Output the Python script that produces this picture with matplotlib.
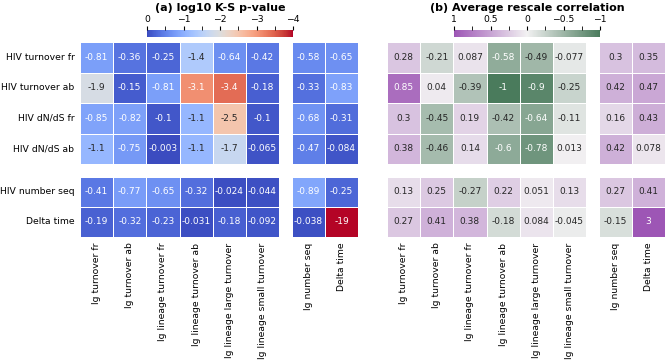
import numpy as np
import matplotlib
matplotlib.use("Agg")
import matplotlib.pyplot as plt
import seaborn as sns
from matplotlib.colors import LinearSegmentedColormap, Normalize
from matplotlib.cm import ScalarMappable

hiv_labels = ["HIV turnover fr", "HIV turnover ab", "HIV dN/dS fr", "HIV dN/dS ab",
              "HIV number seq", "Delta time"]
ig_labels = ["Ig turnover fr", "Ig turnover ab", "Ig lineage turnover fr",
             "Ig lineage turnover ab", "Ig lineage large turnover",
             "Ig lineage small turnover", "Ig number seq", "Delta time"]

# log10 K-S p-values, rows = hiv_labels, cols = ig_labels
ks_pvalues = np.array([
    [-0.81, -0.36, -0.25, -1.4, -0.64, -0.42, -0.58, -0.65],
    [-1.9, -0.15, -0.81, -3.1, -3.4, -0.18, -0.33, -0.83],
    [-0.85, -0.82, -0.1, -1.1, -2.5, -0.1, -0.68, -0.31],
    [-1.1, -0.75, -0.003, -1.1, -1.7, -0.065, -0.47, -0.084],
    [-0.41, -0.77, -0.65, -0.32, -0.024, -0.044, -0.89, -0.25],
    [-0.19, -0.32, -0.23, -0.031, -0.18, -0.092, -0.038, -19],
])

# average rescale correlation
rescale_corr = np.array([
    [0.28, -0.21, 0.087, -0.58, -0.49, -0.077, 0.3, 0.35],
    [0.85, 0.04, -0.39, -1, -0.9, -0.25, 0.42, 0.47],
    [0.3, -0.45, 0.19, -0.42, -0.64, -0.11, 0.16, 0.43],
    [0.38, -0.46, 0.14, -0.6, -0.78, 0.013, 0.42, 0.078],
    [0.13, 0.25, -0.27, 0.22, 0.051, 0.13, 0.27, 0.41],
    [0.27, 0.41, 0.38, -0.18, 0.084, -0.045, -0.15, 3],
])

W, H = 665, 361
fig = plt.figure(figsize=(W / 100, H / 100), dpi=100)


def px_axes(x0, y0, x1, y1):
    return fig.add_axes([x0 / W, 1 - y1 / H, (x1 - x0) / W, (y1 - y0) / H])


green_purple = LinearSegmentedColormap.from_list(
    "gp", ["#4a7b5c", "#f2f1f2", "#9d56b5"])

panels = [
    (ks_pvalues, "coolwarm_r", -4, 0, 80, 292, "(a) log10 K-S p-value",
     [0, -1, -2, -3, -4], np.arange(0, -4.01, -0.5)),
    (rescale_corr, green_purple, -1, 1, 387, 599, "(b) Average rescale correlation",
     [1, 0.5, 0, -0.5, -1], np.arange(1, -1.01, -0.25)),
]

row_splits = [(0, 4, 42, 164), (4, 6, 177, 237)]

for p, (data, cmap, vmin, vmax, xa, xb, title, ticks, minor) in enumerate(panels):
    col_splits = [(0, 6, xa, xa + 199), (6, 8, xb, xb + 66)]
    for r0, r1, y0, y1 in row_splits:
        for c0, c1, x0, x1 in col_splits:
            ax = px_axes(x0, y0, x1, y1)
            sns.heatmap(data[r0:r1, c0:c1], ax=ax, cmap=cmap, vmin=vmin, vmax=vmax,
                        annot=True, fmt=".2g", annot_kws={"fontsize": 6.5},
                        cbar=False, linewidths=0.5, linecolor="white",
                        xticklabels=ig_labels[c0:c1], yticklabels=hiv_labels[r0:r1])
            ax.tick_params(length=0, labelsize=6.7, pad=4)
            ax.set_yticklabels(hiv_labels[r0:r1], rotation=0)
            ax.set_xticklabels(ig_labels[c0:c1], rotation=90)
            if p == 1 or c0 > 0:
                ax.set_yticklabels([])
            if r0 == 0:
                ax.set_xticklabels([])

    # colorbar
    cx0 = xa + 67
    cax = px_axes(cx0, 30, cx0 + 146, 37)
    sm = ScalarMappable(norm=Normalize(vmin, vmax), cmap=cmap)
    cb = fig.colorbar(sm, cax=cax, orientation="horizontal")
    cb.outline.set_visible(False)
    cax.invert_xaxis()
    cax.xaxis.set_ticks_position("top")
    cax.xaxis.set_label_position("top")
    cax.set_xticks(ticks)
    cax.set_xticklabels([("%g" % t).replace("-", "\u2212") for t in ticks])
    cax.set_xticks(minor, minor=True)
    cax.tick_params(which="both", length=3, labelsize=6.7, pad=1.5)
    fig.text((cx0 + 73) / W, 1 - 8 / H, title, ha="center", va="center",
             fontsize=8, fontweight="bold")

fig.savefig("out.png", dpi=100)
